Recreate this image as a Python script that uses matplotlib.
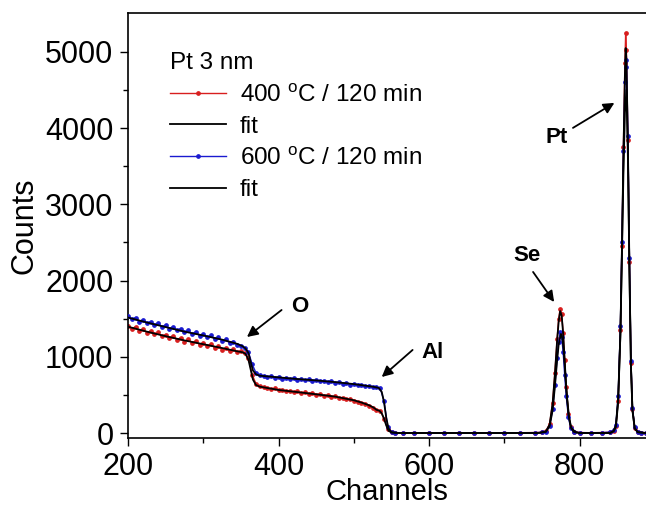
import matplotlib
matplotlib.use("Agg")
import matplotlib.pyplot as plt

plt.rcParams['font.family'] = ['Liberation Sans', 'DejaVu Sans']
plt.rcParams['mathtext.fontset'] = 'custom'
plt.rcParams['mathtext.rm'] = 'Liberation Sans'

# ---------------- data ----------------
ch_400 = [200, 205, 210, 215, 220, 225, 230, 235, 240, 245, 250, 255, 260, 265, 270, 275,
          280, 285, 290, 295, 300, 305, 310, 315, 320, 325, 330, 335, 340, 345, 350, 355,
          360, 365, 370, 375, 380, 385, 390, 395, 400, 405, 410, 415, 420, 425, 430, 435,
          440, 445, 450, 455, 460, 465, 470, 475, 480, 485, 490, 495, 500, 505, 510, 515,
          520, 525, 530, 535, 540, 545,
          550, 555, 565, 580, 600, 620, 640, 660, 680, 700, 720, 740, 750, 755, 760, 764,
          767, 770, 772, 774, 776, 778, 780, 782, 785, 788, 792, 800, 815, 830, 840, 845,
          848, 851, 854, 856, 858, 860, 861, 862, 864, 866, 868, 870, 873, 877, 882, 888]
counts_400 = [1410, 1365, 1395, 1340, 1362, 1318, 1338, 1296, 1322, 1268, 1292, 1248, 1276, 1226, 1250, 1200,
              1232, 1184, 1204, 1158, 1186, 1140, 1162, 1118, 1140, 1094, 1112, 1072, 1096, 1060, 1078, 1048,
              990, 760, 648, 615, 602, 590, 572, 586, 560, 568, 546, 556, 534, 546, 524, 532,
              514, 522, 504, 510, 490, 496, 474, 482, 458, 466, 440, 446, 420, 406, 396, 386,
              360, 332, 302, 292, 190, 55,
              12, 4, 2, 3, 2, 4, 2, 3, 2, 3, 4, 6, 10, 25, 120, 400,
              790, 1240, 1500, 1630, 1560, 1310, 960, 610, 250, 85, 20, 6, 4, 6, 10, 25,
              90, 420, 1350, 2450, 3750, 4850, 5250, 5020, 3850, 2250, 920, 320, 70, 15, 5, 4]

ch_600 = ch_400
counts_600 = [1530, 1490, 1515, 1462, 1488, 1440, 1462, 1418, 1446, 1392, 1418, 1370, 1396, 1346, 1370, 1322,
              1350, 1300, 1326, 1278, 1302, 1256, 1280, 1232, 1254, 1206, 1228, 1180, 1200, 1150, 1140, 1112,
              1060, 900, 790, 760, 744, 730, 748, 722, 738, 714, 728, 706, 718, 700, 712, 692,
              704, 684, 694, 676, 688, 668, 676, 658, 666, 648, 654, 636, 642, 624, 630, 614,
              618, 600, 604, 588, 420, 80,
              10, 3, 2, 2, 3, 2, 3, 2, 3, 2, 3, 5, 8, 18, 95, 310,
              630, 990, 1190, 1320, 1255, 1060, 760, 490, 205, 65, 12, 5, 4, 5, 12, 35,
              110, 480, 1400, 2500, 3700, 4600, 4800, 4900, 3900, 2300, 950, 330, 75, 15, 5, 3]

fit_ch_400 = [200, 225, 250, 275, 300, 325, 345, 352, 356, 360, 363, 366, 370, 375, 400, 425,
              450, 475, 500, 510, 520, 526, 530, 534, 537, 540, 543, 546, 550, 560, 745, 755,
              760, 764, 767, 770, 772, 774, 776, 778, 780, 782, 785, 788, 792, 800, 840, 845,
              848, 851, 854, 856, 858, 860, 861, 862, 864, 866, 868, 870, 873, 877, 888]
fit_400 = [1395, 1330, 1270, 1215, 1165, 1115, 1072, 1060, 1040, 960, 830, 700, 630, 608, 565, 537,
           508, 478, 430, 400, 365, 335, 305, 292, 260, 190, 100, 30, 6, 0, 0, 20,
           110, 390, 770, 1220, 1460, 1600, 1540, 1300, 950, 600, 245, 80, 15, 0, 0, 20,
           80, 400, 1300, 2400, 3650, 4700, 5050, 4900, 3750, 2150, 880, 300, 60, 10, 0]

fit_ch_600 = [200, 225, 250, 275, 300, 325, 345, 352, 356, 360, 363, 366, 370, 375, 400, 425,
              450, 475, 500, 525, 533, 537, 540, 543, 546, 550, 560, 745, 755, 760, 764, 767,
              770, 772, 775, 777, 779, 781, 783, 786, 789, 795, 800, 840, 845, 848, 851, 854,
              856, 858, 860, 862, 864, 866, 868, 870, 873, 877, 888]
fit_600 = [1515, 1450, 1390, 1330, 1280, 1225, 1170, 1140, 1110, 1050, 930, 820, 770, 752, 730, 708,
           690, 668, 642, 608, 592, 540, 410, 200, 60, 10, 0, 0, 15, 90, 300, 610,
           960, 1160, 1300, 1240, 1040, 740, 470, 195, 60, 10, 0, 0, 30, 100, 450, 1300,
           2300, 3400, 4200, 4500, 3600, 2100, 880, 300, 65, 12, 0]

series_labels = ['400 $^{\\rm o}$C / 120 min', 'fit', '600 $^{\\rm o}$C / 120 min', 'fit']
legend_title = 'Pt 3 nm'
x_ticks = [200, 400, 600, 800]
y_ticks = [0, 1000, 2000, 3000, 4000, 5000]

# ---------------- figure ----------------
W, H = 646, 507
fig = plt.figure(figsize=(W / 100, H / 100), dpi=100)
ax_bottom_px, ax_top_px = 437.6, 13
ax = fig.add_axes([128 / W, 1 - ax_bottom_px / H, (W - 128) / W, (ax_bottom_px - ax_top_px) / H])

RED = '#d81e1e'
BLUE = '#1a1ad0'

l1, = ax.plot(ch_400, counts_400, color=RED, lw=1.0, marker='o', ms=2.4, mec=RED, mfc=RED, zorder=2)
l3, = ax.plot(ch_600, counts_600, color=BLUE, lw=1.0, marker='o', ms=2.4, mec=BLUE, mfc=BLUE, zorder=3)
l2, = ax.plot(fit_ch_400, fit_400, color='black', lw=1.3, zorder=4)
l4, = ax.plot(fit_ch_600, fit_600, color='black', lw=1.3, zorder=5)

ax.set_xlim(200, 888)
ax.set_ylim(-60, 5510)
ax.set_xticks(x_ticks)
ax.set_xticks([300, 500, 700], minor=True)
ax.set_yticks(y_ticks)
ax.set_yticks([500, 1500, 2500, 3500, 4500], minor=True)
ax.tick_params(axis='both', which='major', direction='out', length=6, width=1.0,
               labelsize=22, pad=4.5, top=False, right=False)
ax.tick_params(axis='both', which='minor', direction='out', length=3.5, width=1.0,
               top=False, right=False)
ax.spines['right'].set_visible(False)
for s in ['left', 'bottom', 'top']:
    ax.spines[s].set_linewidth(1.2)

xl = ax.set_xlabel('Channels', fontsize=21)
xl.set_va('bottom')
ax.xaxis.set_label_coords(0.5, -(506 - ax_bottom_px) / (ax_bottom_px - ax_top_px))
ax.set_ylabel('Counts', fontsize=22, labelpad=4)

leg = ax.legend([l1, l2, l3, l4], series_labels, title=legend_title, loc='upper left',
                bbox_to_anchor=(0.062, 0.93), frameon=False, fontsize=17.5, title_fontsize=17.5,
                handlelength=2.3, handletextpad=0.58, labelspacing=0.38, borderaxespad=0,
                numpoints=1)
leg._legend_box.align = 'left'

arrow = dict(arrowstyle='-|>', color='black', lw=1.3, mutation_scale=16, shrinkA=0, shrinkB=0)
ax.annotate('', xy=(358, 1260), xytext=(404, 1614), arrowprops=arrow)
ax.text(428, 1660, 'O', fontsize=16, fontweight='bold', ha='center', va='center')
ax.annotate('', xy=(537, 735), xytext=(578, 1090), arrowprops=arrow)
ax.text(605, 1050, 'Al', fontsize=16, fontweight='bold', ha='center', va='center')
ax.annotate('', xy=(766, 1719), xytext=(738, 2113), arrowprops=arrow)
ax.text(730, 2330, 'Se', fontsize=16, fontweight='bold', ha='center', va='center')
ax.annotate('', xy=(846, 4331), xytext=(791, 4003), arrowprops=arrow)
ax.text(769, 3871, 'Pt', fontsize=16, fontweight='bold', ha='center', va='center')

fig.savefig('out.png', dpi=100)
